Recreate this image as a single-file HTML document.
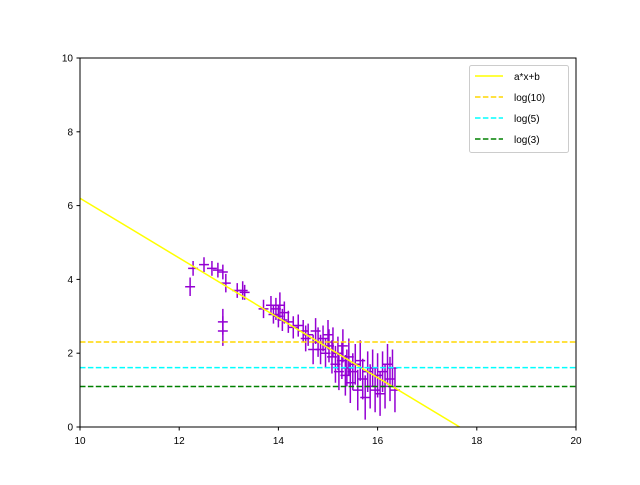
<!DOCTYPE html>
<html><head><meta charset="utf-8"><style>body{margin:0;background:#fff}svg{font-family:"Liberation Sans","DejaVu Sans",sans-serif}</style></head>
<body>
<svg id="c" width="640" height="480"></svg>
<script>
const xs=[12.22,12.28,12.5,12.66,12.78,12.88,12.94,12.88,12.88,13.17,13.28,13.32,13.7,13.85,13.9,13.95,14.0,14.03,14.08,14.12,14.2,14.3,14.4,14.5,14.55,14.6,14.7,14.75,14.8,14.85,14.9,14.95,15.0,15.02,15.08,15.1,15.15,15.2,15.22,15.28,15.3,15.35,15.38,15.42,15.45,15.5,15.55,15.6,15.65,15.7,15.75,15.8,15.85,15.9,15.95,16.0,16.05,16.1,16.15,16.2,16.25,16.35,16.3];
const ys=[3.8,4.3,4.4,4.3,4.25,4.2,3.9,2.85,2.6,3.7,3.7,3.65,3.2,3.3,3.05,3.2,3.0,3.3,2.9,3.1,2.85,2.7,2.75,2.6,2.4,2.5,2.1,2.6,2.3,2.1,2.4,2.0,2.5,2.2,1.9,2.3,1.7,2.0,1.5,1.8,2.2,1.4,1.6,1.9,1.2,1.5,1.7,1.0,1.8,1.3,0.8,1.5,1.1,1.6,1.0,1.4,0.9,1.5,1.1,1.7,1.3,1.0,1.6];
const yerrs=[.25,.2,.2,.2,.2,.2,.25,.35,.4,.2,.25,.2,.25,.25,.25,.3,.3,.35,.3,.3,.3,.3,.3,.3,.35,.3,.4,.35,.4,.4,.35,.4,.4,.45,.45,.4,.5,.45,.5,.5,.45,.55,.5,.5,.55,.5,.55,.55,.55,.55,.6,.55,.6,.5,.6,.6,.6,.55,.6,.55,.6,.6,.5];
const xerr=0.1;
const fitA=-0.81, fitB=14.3;
const hlines=[Math.log(10),Math.log(5),Math.log(3)];
const hcolors=['#ffd700','#00ffff','#008000'];
const labels=['a*x+b','log(10)','log(5)','log(3)'];
const xticks=[10,12,14,16,18,20], yticks=[0,2,4,6,8,10];
const L=80,R=576,T=58,B=427;
const X=v=>L+(v-10)/10*(R-L), Y=v=>B-(v/10)*(B-T);
const svg=document.getElementById('c'),NS='http://www.w3.org/2000/svg';
function mk(t,a,p){const e=document.createElementNS(NS,t);for(const k in a)e.setAttribute(k,a[k]);(p||svg).appendChild(e);return e;}
const clip=mk('clipPath',{id:'cp'});mk('rect',{x:L,y:T,width:R-L,height:B-T},clip);
const g=mk('g',{'clip-path':'url(#cp)'});


for(let i=0;i<xs.length;i++){
 const p=mk('path',{d:`M${X(xs[i])},${Y(ys[i]-yerrs[i])}V${Y(ys[i]+yerrs[i])}M${X(xs[i]-xerr)},${Y(ys[i])}H${X(xs[i]+xerr)}`,stroke:'#9400d3','stroke-width':1.5,fill:'none'},g);
 
 
}
const fl=mk('line',{x1:X(10),y1:Y(fitA*10+fitB),x2:X(20),y2:Y(fitA*20+fitB),stroke:'#ffff00','stroke-width':1.5},g);


hlines.forEach((v,i)=>{const l=mk('line',{x1:L,x2:R,y1:Y(v),y2:Y(v),stroke:hcolors[i],'stroke-width':1.5,'stroke-dasharray':'5.5,2.4'},g);
 
 });
const fr=mk('rect',{x:L,y:T,width:R-L,height:B-T,fill:'none',stroke:'#000','stroke-width':1});


xticks.forEach(v=>{mk('line',{x1:X(v),x2:X(v),y1:B,y2:B+3.5,stroke:'#000'});
 const t=mk('text',{x:X(v),y:B+17,'text-anchor':'middle','font-size':10});t.textContent=v;
 
 });
yticks.forEach(v=>{mk('line',{x1:L,x2:L-3.5,y1:Y(v),y2:Y(v),stroke:'#000'});
 const t=mk('text',{x:L-7,y:Y(v)+3.5,'text-anchor':'end','font-size':10});t.textContent=v;
 
 });
const lg=mk('g',{});


mk('rect',{x:469.5,y:65.5,width:99,height:87,rx:2,fill:'#fff',stroke:'#ccc'},lg);
const lc=['#ffff00'].concat(hcolors);
labels.forEach((s,i)=>{const y=76+i*21;
 mk('line',{x1:475,x2:503,y1:y,y2:y,stroke:lc[i],'stroke-width':1.5,'stroke-dasharray':i?'5.5,2.4':'none'},lg);
 const t=mk('text',{x:514,y:y+4,'font-size':10},lg);t.textContent=s;
 
 });
</script>
</body></html>
